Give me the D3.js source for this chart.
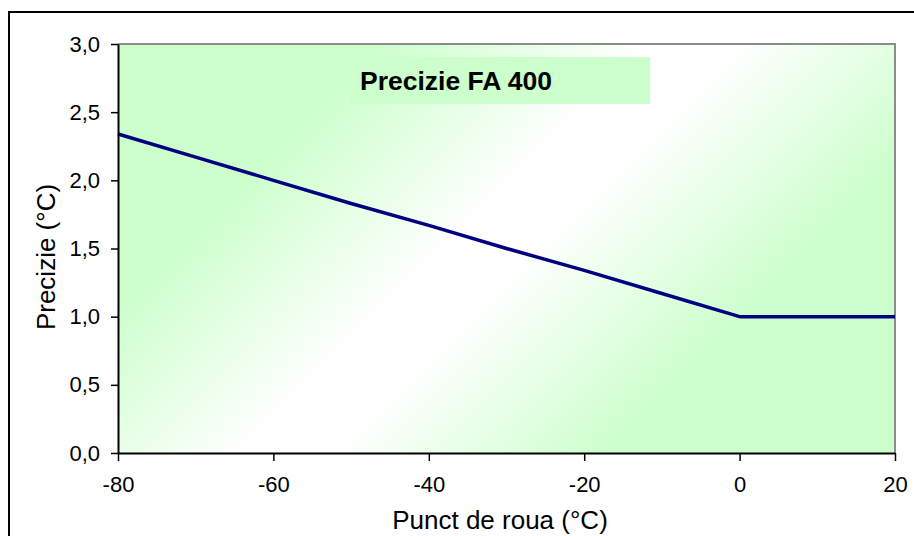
<!DOCTYPE html>
<html>
<head>
<meta charset="utf-8">
<script src="https://cdn.jsdelivr.net/npm/d3@7"></script>
<style>
  body { margin: 0; background: #fff; }
  svg { display: block; font-family: "Liberation Sans", Arial, sans-serif; }
</style>
</head>
<body>
<div id="chart"></div>
<script>
// ---- data ----
const dewPoint  = [-80, -70, -60, -50, -40, -30, -20, -10, 0, 10, 20];
const precision = [2.34, 2.17, 2.0, 1.83, 1.67, 1.5, 1.34, 1.17, 1.0, 1.0, 1.0];
const xTicks = [-80, -60, -40, -20, 0, 20];
const yTicks = [0, 0.5, 1.0, 1.5, 2.0, 2.5, 3.0];

const chartTitle = "Precizie FA 400";
const xTitle = "Punct de roua (°C)";
const yTitle = "Precizie (°C)";

// ---- canvas ----
const W = 914, H = 536;
const margin = { top: 44, right: 19, bottom: 83, left: 118 };
const width = W - margin.left - margin.right;
const height = H - margin.top - margin.bottom;

const svg = d3.select("#chart").append("svg")
  .attr("width", W).attr("height", H);

// outer chart border (runs off the right/bottom edge)
svg.append("rect")
  .attr("x", 9).attr("y", 12)
  .attr("width", 1000).attr("height", 1000)
  .attr("fill", "#fff").attr("stroke", "#000").attr("stroke-width", 2);

// romanian style numbers: comma decimal, plain hyphen minus
const ro = d3.formatLocale({ decimal: ",", thousands: ".", grouping: [3], currency: ["", ""], minus: "-" });

const x = d3.scaleLinear().domain([-80, 20]).range([0, width]);
const y = d3.scaleLinear().domain([0, 3]).range([height, 0]);

// diagonal gradient: green - white - green
const diag = (width + height) / 2;
const grad = svg.append("defs").append("linearGradient")
  .attr("id", "bg")
  .attr("gradientUnits", "userSpaceOnUse")
  .attr("x1", margin.left).attr("y1", margin.top)
  .attr("x2", margin.left + diag).attr("y2", margin.top + diag);
[[0, "#ccffcc"], [0.22, "#ccffcc"], [0.45, "#ffffff"], [0.52, "#ffffff"], [0.76, "#ccffcc"], [1, "#ccffcc"]]
  .forEach(s => grad.append("stop").attr("offset", s[0]).attr("stop-color", s[1]));

svg.append("rect")
  .attr("x", margin.left).attr("y", margin.top)
  .attr("width", width).attr("height", height)
  .attr("fill", "url(#bg)");

const g = svg.append("g")
  .attr("transform", `translate(${margin.left},${margin.top})`);

// top + right frame (grey)
g.append("path")
  .attr("d", `M0,0H${width}V${height}`)
  .attr("fill", "none").attr("stroke", "#8c8c8c").attr("stroke-width", 2);

// title box
g.append("rect")
  .attr("x", 350 - margin.left).attr("y", 57 - margin.top)
  .attr("width", 300).attr("height", 47)
  .attr("fill", "#ccffcc");
g.append("text")
  .attr("x", 360 - margin.left).attr("y", 90 - margin.top)
  .attr("font-size", 26.5).attr("font-weight", "bold")
  .text(chartTitle);

// line
g.append("path")
  .datum(dewPoint.map((d, i) => [d, precision[i]]))
  .attr("fill", "none")
  .attr("stroke", "#000080")
  .attr("stroke-width", 3.5)
  .attr("stroke-linejoin", "round")
  .attr("d", d3.line().x(d => x(d[0])).y(d => y(d[1])));

// axes
const xAxis = g.append("g")
  .attr("transform", `translate(0,${height})`)
  .call(d3.axisBottom(x).tickValues(xTicks).tickSize(8).tickSizeOuter(0).tickPadding(15)
    .tickFormat(ro.format("d")));
const yAxis = g.append("g")
  .call(d3.axisLeft(y).tickValues(yTicks).tickSize(7).tickSizeOuter(0).tickPadding(11)
    .tickFormat(ro.format(".1f")));

[xAxis, yAxis].forEach(a => {
  a.select(".domain").attr("stroke", "#000").attr("stroke-width", 2);
  a.selectAll(".tick line").attr("stroke", "#000").attr("stroke-width", 1.5);
  a.selectAll(".tick text")
    .attr("font-size", 22).attr("fill", "#000")
    .attr("font-family", "'Liberation Sans', Arial, sans-serif");
});

// axis titles
svg.append("text")
  .attr("x", 500).attr("y", 529)
  .attr("text-anchor", "middle")
  .attr("font-size", 26)
  .text(xTitle);

svg.append("text")
  .attr("transform", "translate(55,257) rotate(-90)")
  .attr("text-anchor", "middle")
  .attr("font-size", 26)
  .text(yTitle);
</script>
</body>
</html>
